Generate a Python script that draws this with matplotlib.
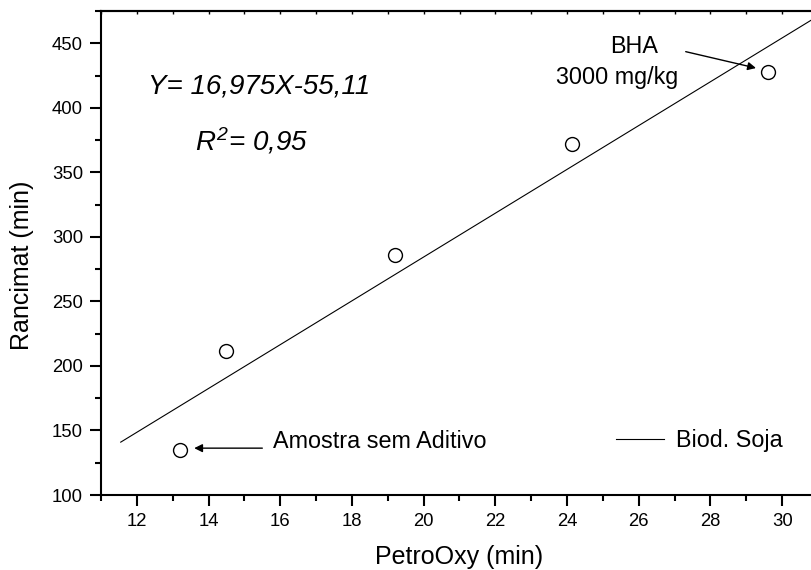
import matplotlib
matplotlib.use("Agg")
from matplotlib import pyplot as plt
from matplotlib.ticker import MultipleLocator
import numpy as np

plt.rcParams['font.family'] = ['Liberation Sans', 'DejaVu Sans']
plt.rcParams['mathtext.fontset'] = 'custom'
plt.rcParams['mathtext.it'] = 'Liberation Sans:italic'
plt.rcParams['mathtext.rm'] = 'Liberation Sans'

# data
petrooxy = [13.2, 14.5, 19.2, 24.15, 29.6]
rancimat = [134.5, 211.5, 286.0, 372.0, 427.5]

# fitted line Y = 16,975X - 55,11
slope = 16.975
intercept = -55.11
fit_x = np.array([11.55, 31.0])

fig = plt.figure(figsize=(8.12, 5.70), dpi=100)
ax = fig.add_axes([101/812, 75/570, 717/812, 484/570])

ax.plot(fit_x, slope*fit_x + intercept, color='black', lw=0.8, label='Biod. Soja')
ax.plot(petrooxy, rancimat, 'o', mfc='white', mec='black', ms=10, mew=1.0)

ax.set_xlim(11, 31)
ax.set_ylim(100, 475)
ax.xaxis.set_major_locator(MultipleLocator(2))
ax.xaxis.set_minor_locator(MultipleLocator(1))
ax.yaxis.set_major_locator(MultipleLocator(50))
ax.yaxis.set_minor_locator(MultipleLocator(25))

for s in ax.spines.values():
    s.set_linewidth(1.5)
ax.tick_params(which='major', direction='out', length=8, width=1.5, labelsize=13.3, pad=5)
ax.tick_params(which='minor', direction='out', length=4, width=1.5)
ax.tick_params(axis='x', which='both', top=False)

# tiny inward ticks on the top spine
sec = ax.secondary_xaxis('top')
sec.xaxis.set_major_locator(MultipleLocator(1))
sec.tick_params(which='both', direction='in', length=2, width=1, labeltop=False)
sec.set_xticklabels([])
sec.spines['top'].set_linewidth(1.5)

ax.set_xlabel('PetroOxy (min)', fontsize=18)
ax.set_ylabel('Rancimat (min)', fontsize=18)
ax.xaxis.set_label_coords(0.5, -0.103)
ax.yaxis.set_label_coords(-0.094, 0.475)

# equation and R^2
ax.text(12.31, 411.4, 'Y= 16,975X-55,11', fontsize=20, style='italic')
ax.text(13.63, 366.6, r'$R^{\mathregular{2}}$= 0,95', fontsize=20, style='italic')

# annotations
ax.annotate('', xy=(29.27, 430.8), xytext=(27.31, 443.5),
            arrowprops=dict(arrowstyle='-|>', color='black', lw=1.0,
                            mutation_scale=12, shrinkA=0, shrinkB=0))
ax.text(25.86, 442.3, 'BHA', fontsize=16.8, ha='center', va='baseline')
ax.text(25.41, 418.4, '3000 mg/kg', fontsize=16.8, ha='center', va='baseline')

ax.annotate('', xy=(13.60, 136.3), xytext=(15.50, 136.3),
            arrowprops=dict(arrowstyle='-|>', color='black', lw=1.0,
                            mutation_scale=12, shrinkA=0, shrinkB=0))
ax.text(15.80, 136.3, 'Amostra sem Aditivo', fontsize=16.8, va='baseline')

ax.legend(loc='center left', bbox_to_anchor=(0.718, 0.112), frameon=False,
          fontsize=16.8, handlelength=2.08, handletextpad=0.5,
          borderpad=0, borderaxespad=0)

fig.savefig('out.png', dpi=100)
